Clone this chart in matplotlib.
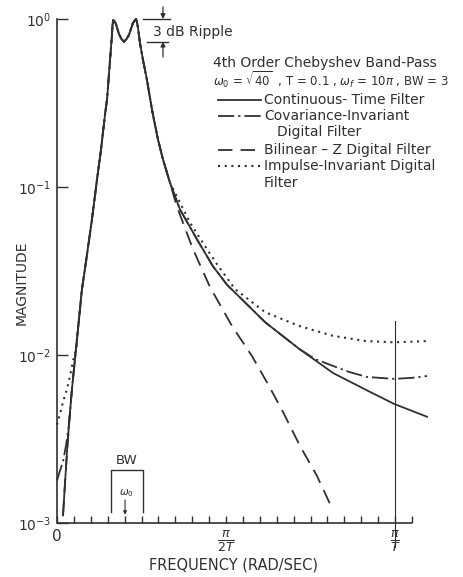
import numpy as np
import matplotlib
matplotlib.use("Agg")
import matplotlib.pyplot as plt
from matplotlib.lines import Line2D
from matplotlib.ticker import NullLocator

# ---------------- data ----------------
T = 0.1
w_fold = np.pi / T            # pi/T
w_half = np.pi / (2 * T)      # pi/2T
w0 = np.sqrt(40)
bw_lo, bw_hi = 5.0, 8.0

# Continuous-time filter
ct_w = [0.56, 0.74, 0.93, 1.12, 1.39, 1.77, 2.32, 2.79, 3.25, 3.72, 4.09, 4.46,
        4.65, 4.93, 5.11, 5.16, 5.23, 5.34, 5.48, 5.76, 5.99, 6.23, 6.46, 6.69,
        7.06, 7.23, 7.34, 7.43, 7.53, 7.71, 7.99, 8.36, 8.83, 9.39, 9.85, 10.50,
        11.43, 13.01, 14.50, 15.80, 19.33, 22.49, 25.65, 28.72, 31.32, 34.39]
ct_m = [0.00111, 0.00171, 0.00266, 0.00390, 0.00628, 0.0109, 0.0247, 0.0397,
        0.0641, 0.111, 0.167, 0.269, 0.331, 0.571, 0.804, 0.921, 0.985, 0.973,
        0.933, 0.815, 0.760, 0.733, 0.760, 0.804, 0.947, 0.980, 1.0, 0.960,
        0.885, 0.721, 0.571, 0.435, 0.288, 0.191, 0.146, 0.106, 0.0735, 0.0488,
        0.0337, 0.0262, 0.0157, 0.0109, 0.00782, 0.00620, 0.00512, 0.00429]

# Covariance-invariant digital filter
cv_w = [0.00, 0.28, 0.56, 0.84, 1.12, 1.39, 1.77, 2.32, 2.79, 3.25, 3.72, 4.09,
        4.46, 4.65, 4.93, 5.11, 5.16, 5.23, 5.34, 5.48, 5.76, 5.99, 6.23, 6.46,
        6.69, 7.06, 7.23, 7.34, 7.43, 7.53, 7.71, 7.99, 8.36, 8.83, 9.39, 9.85,
        10.50, 11.43, 13.01, 14.50, 15.80, 19.33, 22.49, 23.98, 25.65, 27.14,
        28.81, 31.32, 32.99, 34.39]
cv_m = [0.00179, 0.00205, 0.00232, 0.00290, 0.00390, 0.00628, 0.0109, 0.0247,
        0.0397, 0.0641, 0.111, 0.167, 0.269, 0.331, 0.571, 0.804, 0.921, 0.985,
        0.973, 0.933, 0.815, 0.760, 0.733, 0.760, 0.804, 0.947, 0.980, 1.0,
        0.960, 0.885, 0.721, 0.571, 0.435, 0.288, 0.191, 0.146, 0.106, 0.0735,
        0.0488, 0.0337, 0.0262, 0.0157, 0.0109, 0.00946, 0.00861, 0.00793,
        0.00740, 0.00721, 0.00731, 0.00750]

# Bilinear-Z digital filter
bl_w = [0.56, 0.74, 0.93, 1.12, 1.39, 1.77, 2.32, 2.79, 3.25, 3.72, 4.09, 4.46,
        4.65, 4.93, 5.11, 5.16, 5.23, 5.34, 5.48, 5.76, 5.99, 6.23, 6.46, 6.69,
        7.06, 7.23, 7.34, 7.43, 7.53, 7.71, 7.99, 8.36, 8.83, 9.39, 9.85, 10.50,
        11.13, 12.64, 14.22, 16.26, 18.12, 19.70, 21.00, 22.58, 24.16, 25.65]
bl_m = [0.00111, 0.00171, 0.00266, 0.00390, 0.00628, 0.0109, 0.0247, 0.0397,
        0.0641, 0.111, 0.167, 0.269, 0.331, 0.571, 0.804, 0.921, 0.985, 0.973,
        0.933, 0.815, 0.760, 0.733, 0.760, 0.804, 0.947, 0.980, 1.0, 0.960,
        0.885, 0.721, 0.571, 0.435, 0.288, 0.191, 0.146, 0.106, 0.0769, 0.0426,
        0.0254, 0.0149, 0.00986, 0.00655, 0.00459, 0.00288, 0.00191, 0.00119]

# Impulse-invariant digital filter
ii_w = [0.00, 0.28, 0.56, 0.93, 1.21, 1.49, 1.77, 2.32, 2.79, 3.25, 3.72, 4.09,
        4.46, 4.65, 4.93, 5.11, 5.16, 5.23, 5.34, 5.48, 5.76, 5.99, 6.23, 6.46,
        6.69, 7.06, 7.23, 7.34, 7.43, 7.53, 7.71, 7.99, 8.36, 8.83, 9.39, 9.85,
        10.50, 12.36, 13.94, 14.87, 16.54, 19.33, 22.49, 25.65, 28.72, 31.32,
        34.39]
ii_m = [0.00384, 0.00447, 0.00526, 0.00628, 0.00750, 0.00921, 0.0109, 0.0247,
        0.0397, 0.0641, 0.111, 0.167, 0.269, 0.331, 0.571, 0.804, 0.921, 0.985,
        0.973, 0.933, 0.815, 0.760, 0.733, 0.760, 0.804, 0.947, 0.980, 1.0,
        0.960, 0.885, 0.721, 0.571, 0.435, 0.288, 0.191, 0.146, 0.106, 0.0615,
        0.0426, 0.0347, 0.0247, 0.0180, 0.0149, 0.0130, 0.0121, 0.0119, 0.0121]

y_ticks = [1e-3, 1e-2, 1e-1, 1e0]
y_labels = [r"$10^{-3}$", r"$10^{-2}$", r"$10^{-1}$", r"$10^{0}$"]
n_xticks = 22                       # ticks every pi/(20T)
x_ticks = [i * w_half / 10 for i in range(n_xticks)]

ink = "#303030"
W, H = 464, 577

fig = plt.figure(figsize=(W / 100, H / 100), dpi=100)
fig.patch.set_facecolor("white")
ax = fig.add_axes([57 / W, 54 / H, 370 / W, 504 / H])
ax.set_yscale("log")
ax.set_xlim(0, 34.39)
ax.set_ylim(1e-3, 1.0)

for s in ["top", "right", "bottom"]:
    ax.spines[s].set_visible(False)
ax.spines["left"].set_color(ink)
ax.spines["left"].set_linewidth(1.2)

# x axis line ends at last tick
ax.plot([0, x_ticks[-1]], [1e-3, 1e-3], color=ink, lw=1.2, clip_on=False,
        solid_capstyle="butt")

ax.set_yticks(y_ticks)
ax.set_yticklabels(y_labels)
ax.yaxis.set_minor_locator(NullLocator())
ax.tick_params(axis="y", direction="in", length=8, width=1.0, color=ink,
               labelsize=10, labelcolor=ink, pad=4)

xl = [""] * n_xticks
xl[0] = "0"
xl[10] = r"$\frac{\pi}{2T}$"
xl[20] = r"$\frac{\pi}{T}$"
ax.set_xticks(x_ticks)
ax.set_xticklabels(xl)
ax.xaxis.set_minor_locator(NullLocator())
ax.tick_params(axis="x", direction="in", length=5, width=1.0, color=ink,
               labelsize=11, labelcolor=ink, pad=4)
for i, lab in enumerate(ax.get_xticklabels()):
    if i in (10, 20):
        lab.set_fontsize(13)

# curves
sty_ct = dict(color=ink, lw=1.3, ls="-")
sty_cv = dict(color=ink, lw=1.3, ls=(0, (9, 2.2, 1.2, 2.2)))
sty_bl = dict(color=ink, lw=1.3, ls=(0, (8, 4.5)))
sty_ii = dict(color=ink, lw=1.5, ls=(0, (1.0, 2.2)))

ax.plot(ii_w, ii_m, clip_on=False, **sty_ii)
ax.plot(bl_w, bl_m, clip_on=False, **sty_bl)
ax.plot(cv_w, cv_m, clip_on=False, **sty_cv)
ax.plot(ct_w, ct_m, clip_on=False, **sty_ct)

# vertical line at pi/T
ax.plot([w_fold, w_fold], [7.2e-4, 0.0159], color=ink, lw=0.8, clip_on=False)

# ripple marker
ax.plot([7.99, 10.5], [1.0, 1.0], color=ink, lw=1.0, clip_on=False)
ax.plot([8.36, 10.3], [0.733, 0.733], color=ink, lw=1.0, clip_on=False)
ax.annotate("", xy=(9.85, 1.0), xytext=(9.85, 1.18), annotation_clip=False,
            arrowprops=dict(arrowstyle="-|>", color=ink, lw=0.9,
                            mutation_scale=7, shrinkA=0, shrinkB=0))
ax.annotate("", xy=(9.85, 0.733), xytext=(9.85, 0.594), annotation_clip=False,
            arrowprops=dict(arrowstyle="-|>", color=ink, lw=0.9,
                            mutation_scale=7, shrinkA=0, shrinkB=0))

# BW bracket
ax.plot([bw_lo, bw_lo, bw_hi, bw_hi], [0.00116, 0.00207, 0.00207, 0.00116],
        color=ink, lw=1.0)
ax.text((bw_lo + bw_hi) / 2, 0.00237, "BW", ha="center", va="center",
        fontsize=9.5, color=ink)
ax.text(w0 + 0.15, 0.00150, r"$\omega_0$", ha="center", va="center",
        fontsize=7.5, color=ink)
ax.annotate("", xy=(w0, 0.00112), xytext=(w0, 0.00137),
            arrowprops=dict(arrowstyle="-|>", color=ink, lw=0.8,
                            mutation_scale=5, shrinkA=0, shrinkB=0))


def fx(p):
    return p / W


def fy(p):
    return 1 - p / H


# annotations in figure coords
fig.text(fx(153), fy(32), "3 dB Ripple", fontsize=10, color=ink,
         ha="left", va="center")
fig.text(fx(213), fy(63), "4th Order Chebyshev Band-Pass", fontsize=10,
         color=ink, ha="left", va="center")
fig.text(fx(213), fy(80),
         r"$\omega_0$ = $\sqrt{40}$  , T = 0.1 , $\omega_f$ = 10$\pi$ , BW = 3",
         fontsize=8.5, color=ink, ha="left", va="center")

legend_rows = [
    (100, sty_ct, "Continuous- Time Filter"),
    (116, sty_cv, "Covariance-Invariant"),
    (150, sty_bl, "Bilinear \u2013 Z Digital Filter"),
    (166, sty_ii, "Impulse-Invariant Digital"),
]
for yy, sty, lab in legend_rows:
    fig.add_artist(Line2D([fx(218), fx(261)], [fy(yy), fy(yy)],
                          transform=fig.transFigure, **sty))
    fig.text(fx(264), fy(yy), lab, fontsize=10, color=ink,
             ha="left", va="center")
fig.text(fx(277), fy(132), "Digital Filter", fontsize=10, color=ink,
         ha="left", va="center")
fig.text(fx(264), fy(183), "Filter", fontsize=10, color=ink,
         ha="left", va="center")

fig.text(fx(22), fy(283), "MAGNITUDE", rotation=90, fontsize=10, color=ink,
         ha="center", va="center")
fig.text(fx(234), fy(565), "FREQUENCY (RAD/SEC)", fontsize=10.5, color=ink,
         ha="center", va="center")

fig.savefig("out.png", dpi=100, facecolor="white")
